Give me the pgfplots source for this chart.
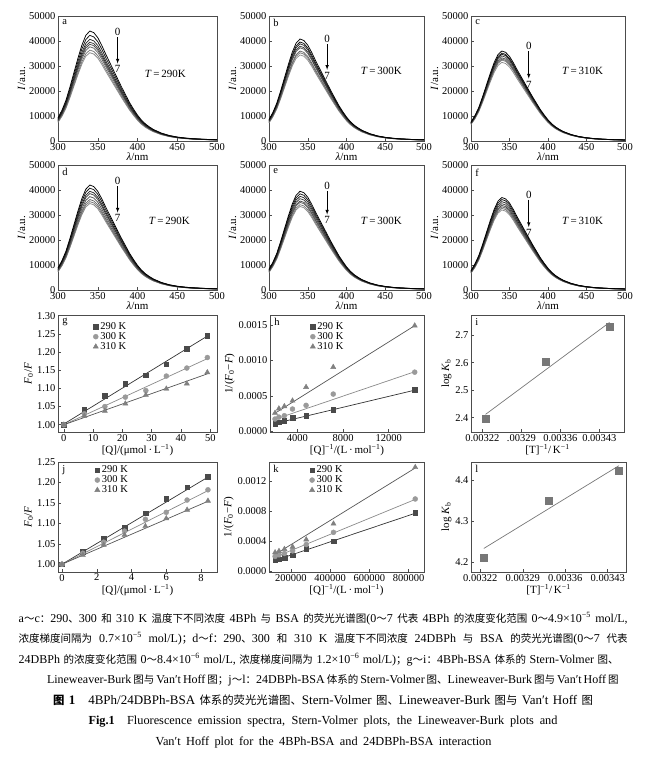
\documentclass[border=0pt]{standalone}
\usepackage{pgfplots}
\pgfplotsset{compat=1.18}
\usepackage{pgfplotstable}
\usepackage{fontspec}
\setmainfont{Liberation Serif}
\newfontfamily\cjk[Scale=0.875]{Noto Sans CJK SC}
\newcommand{\zh}[1]{{\cjk #1}}
\definecolor{c290}{HTML}{4A4A4A}
\definecolor{c300}{HTML}{9A9A9A}
\definecolor{c310}{HTML}{808080}
\definecolor{l290}{HTML}{333333}
\definecolor{l300}{HTML}{8A8A8A}
\definecolor{l310}{HTML}{555555}
\definecolor{sq}{HTML}{777777}

% relative emission profile (peak = 1)
\pgfplotstableread{
wl s
300 0.21
305 0.28
310 0.37
315 0.49
320 0.62
325 0.75
330 0.87
335 0.96
340 1.00
345 0.985
350 0.94
355 0.87
360 0.79
365 0.715
370 0.64
375 0.565
380 0.49
385 0.42
390 0.35
395 0.29
400 0.235
405 0.19
410 0.155
415 0.128
420 0.105
430 0.072
440 0.050
450 0.036
460 0.027
470 0.021
480 0.017
490 0.014
500 0.012
}\shape

\newcommand{\sC}[2]{\addplot[no marks, line width=0.75pt, draw=#2] table[x=wl, y expr={\thisrow{s}*#1}] {\shape};}

\tikzset{
  lett/.style={font=\fontsize{10.5}{11}\selectfont, anchor=north west, inner sep=1pt},
  ann/.style={font=\fontsize{11}{12}\selectfont, inner sep=0pt}
}
\pgfplotsset{
  base/.style={scale only axis, clip=false,
    axis line style={black!70, line width=0.6pt},
    tick align=inside, xtick pos=bottom, ytick pos=left,
    tick style={black!70, line width=0.5pt}, major tick length=3pt,
    tick label style={font=\fontsize{10.5}{11}\selectfont},
    label style={font=\fontsize{11}{12}\selectfont},
    /pgf/number format/assume math mode=true,
    /pgf/number format/1000 sep={},
    scaled ticks=false,
    xticklabel style={yshift=1.5pt}, yticklabel style={xshift=1pt},
    xlabel style={yshift=4pt}, ylabel style={yshift=-3pt},
    legend style={draw=none, fill=none, inner sep=0pt, font=\fontsize{10.5}{10}\selectfont, row sep=-2.5pt},
    legend cell align=left},
  spec/.style={base, xmin=300, xmax=500, ymin=0, ymax=50000,
    xtick={300,350,...,500}, ytick={0,10000,...,50000},
    yticklabel style={/pgf/number format/fixed},
    xlabel={\textit{λ}/nm}, ylabel={\textit{I}/a.u.}},
  m290/.style={only marks, mark=square*, mark size=2.3pt, mark options={draw=c290, fill=c290}},
  m300/.style={only marks, mark=*, mark size=2.5pt, mark options={draw=c300, fill=c300}},
  m310/.style={only marks, mark=triangle*, mark size=3pt, mark options={draw=c310, fill=c310}},
  f290/.style={no marks, draw=l290, line width=0.7pt, forget plot},
  f300/.style={no marks, draw=l300, line width=0.7pt, forget plot},
  f310/.style={no marks, draw=l310, line width=0.7pt, forget plot}
}

\begin{document}
\begin{tikzpicture}
\path[use as bounding box] (0,0) rectangle (646pt,-758pt);

% ---------------- Row 1 ----------------
\begin{axis}[spec, at={(58pt,-141pt)}, anchor=south west, width=159pt, height=125pt]
\sC{35310}{black!45}\sC{36360}{black!53}\sC{37700}{black!61}\sC{38700}{black!69}
\sC{39530}{black!77}\sC{40670}{black!85}\sC{42270}{black!93}\sC{44000}{black}
\node[lett] at (rel axis cs:0.02,0.98) {a};
\node[ann] at (axis cs:375,43600) {0};
\draw[-latex, line width=0.6pt] (axis cs:375,41600) -- (axis cs:375,31000);
\node[ann] at (axis cs:375,28800) {7};
\node[ann] at (axis cs:435,27000) {\textit{T}\,=\,290K};
\end{axis}

\begin{axis}[spec, at={(269pt,-141pt)}, anchor=south west, width=155pt, height=125pt]
\sC{34430}{black!45}\sC{35290}{black!53}\sC{35980}{black!61}\sC{37290}{black!69}
\sC{37920}{black!77}\sC{38860}{black!85}\sC{39610}{black!93}\sC{40800}{black}
\node[lett] at (rel axis cs:0.02,0.98) {b};
\node[ann] at (axis cs:375,40800) {0};
\draw[-latex, line width=0.6pt] (axis cs:375,38800) -- (axis cs:375,28500);
\node[ann] at (axis cs:375,26200) {7};
\node[ann] at (axis cs:445,28200) {\textit{T}\,=\,300K};
\end{axis}

\begin{axis}[spec, at={(471pt,-141pt)}, anchor=south west, width=154pt, height=125pt]
\sC{31470}{black!45}\sC{32350}{black!53}\sC{32760}{black!61}\sC{33270}{black!69}
\sC{34030}{black!77}\sC{34680}{black!85}\sC{35160}{black!93}\sC{36000}{black}
\node[lett] at (rel axis cs:0.02,0.98) {c};
\node[ann] at (axis cs:375,38000) {0};
\draw[-latex, line width=0.6pt] (axis cs:375,36000) -- (axis cs:375,25000);
\node[ann] at (axis cs:375,22600) {7};
\node[ann] at (axis cs:445,28200) {\textit{T}\,=\,310K};
\end{axis}

% ---------------- Row 2 ----------------
\begin{axis}[spec, at={(58pt,-290pt)}, anchor=south west, width=159pt, height=125pt]
\sC{34600}{black!45}\sC{35350}{black!53}\sC{36180}{black!61}\sC{37350}{black!69}
\sC{38570}{black!77}\sC{39470}{black!85}\sC{40740}{black!93}\sC{42000}{black}
\node[lett] at (rel axis cs:0.02,0.98) {d};
\node[ann] at (axis cs:375,43600) {0};
\draw[-latex, line width=0.6pt] (axis cs:375,41600) -- (axis cs:375,31000);
\node[ann] at (axis cs:375,28800) {7};
\node[ann] at (axis cs:440,27500) {\textit{T}\,=\,290K};
\end{axis}

\begin{axis}[spec, at={(269pt,-290pt)}, anchor=south west, width=155pt, height=125pt]
\sC{33420}{black!45}\sC{34140}{black!53}\sC{35050}{black!61}\sC{35590}{black!69}
\sC{36540}{black!77}\sC{37480}{black!85}\sC{38460}{black!93}\sC{39500}{black}
\node[lett] at (rel axis cs:0.02,0.98) {e};
\node[ann] at (axis cs:375,41600) {0};
\draw[-latex, line width=0.6pt] (axis cs:375,39600) -- (axis cs:375,30200);
\node[ann] at (axis cs:375,28000) {7};
\node[ann] at (axis cs:445,27500) {\textit{T}\,=\,300K};
\end{axis}

\begin{axis}[spec, at={(471pt,-290pt)}, anchor=south west, width=154pt, height=125pt]
\sC{32030}{black!45}\sC{32660}{black!53}\sC{33270}{black!61}\sC{33850}{black!69}
\sC{34530}{black!77}\sC{35340}{black!85}\sC{36190}{black!93}\sC{37000}{black}
\node[lett] at (rel axis cs:0.02,0.98) {f};
\node[ann] at (axis cs:375,38200) {0};
\draw[-latex, line width=0.6pt] (axis cs:375,36200) -- (axis cs:375,25200);
\node[ann] at (axis cs:375,22800) {7};
\node[ann] at (axis cs:445,27800) {\textit{T}\,=\,310K};
\end{axis}

% ---------------- Row 3 ----------------
\begin{axis}[base, at={(58pt,-432pt)}, anchor=south west, width=159pt, height=117pt,
  xmin=-2, xmax=52.3, ymin=0.98, ymax=1.302,
  xtick={0,10,...,50}, ytick={1.00,1.05,...,1.30},
  yticklabel style={/pgf/number format/.cd, fixed, fixed zerofill, precision=2},
  xlabel={[Q]/(μmol\,·\,L\textsuperscript{−1})}, ylabel={\textit{F}\textsubscript{0}/\textit{F}},
  legend style={at={(0.22,0.955)}, anchor=north west}]
\addplot[f290] coordinates {(0,1.002) (49,1.244)};
\addplot[f300] coordinates {(0,1.000) (49,1.182)};
\addplot[f310] coordinates {(0,1.000) (49,1.140)};
\addplot[m290] coordinates {(0,1.000) (7,1.041) (14,1.080) (21,1.113) (28,1.136) (35,1.167) (42,1.209) (49,1.245)};
\addplot[m300] coordinates {(0,1.000) (7,1.030) (14,1.050) (21,1.076) (28,1.094) (35,1.134) (42,1.156) (49,1.185)};
\addplot[m310] coordinates {(0,1.000) (7,1.024) (14,1.038) (21,1.058) (28,1.082) (35,1.099) (42,1.113) (49,1.144)};
\legend{290 K, 300 K, 310 K}
\node[lett] at (rel axis cs:0.02,0.98) {g};
\end{axis}

\begin{axis}[base, at={(270pt,-432pt)}, anchor=south west, width=154pt, height=117pt,
  xmin=1600, xmax=15100, ymin=-0.00001, ymax=0.00164,
  xtick={4000,8000,12000}, ytick={0,0.0005,0.0010,0.0015},
  xticklabel style={/pgf/number format/fixed},
  yticklabel style={/pgf/number format/.cd, fixed, fixed zerofill, precision=4},
  xlabel={[Q]\textsuperscript{−1}/(L\,·\,mol\textsuperscript{−1})}, ylabel={1/(\textit{F}\textsubscript{0}−\textit{F})},
  legend style={at={(0.26,0.955)}, anchor=north west}]
\addplot[f290] coordinates {(2041,0.000110) (14286,0.000580)};
\addplot[f300] coordinates {(2041,0.000170) (14286,0.000840)};
\addplot[f310] coordinates {(2041,0.000255) (14286,0.001490)};
\addplot[m290] coordinates {(2041,0.000108) (2381,0.000127) (2857,0.000150) (3571,0.000188) (4762,0.000220) (7143,0.000305) (14286,0.000586)};
\addplot[m300] coordinates {(2041,0.000173) (2381,0.000200) (2857,0.000220) (3571,0.000314) (4762,0.000366) (7143,0.000525) (14286,0.000834)};
\addplot[m310] coordinates {(2041,0.000258) (2381,0.000320) (2857,0.000352) (3571,0.000431) (4762,0.000623) (7143,0.000905) (14286,0.001490)};
\legend{290 K, 300 K, 310 K}
\node[lett] at (rel axis cs:0.02,0.98) {h};
\end{axis}

\begin{axis}[base, at={(471pt,-432pt)}, anchor=south west, width=153pt, height=117pt,
  xmin=0.0031997, xmax=0.0034743, ymin=2.348, ymax=2.773,
  xtick={0.00322,0.00329,0.00336,0.00343}, xticklabels={0.00322,.00329,0.00336,0.00343},
  ytick={2.4,2.5,2.6,2.7},
  yticklabel style={/pgf/number format/.cd, fixed, fixed zerofill, precision=1},
  xlabel={[T]\textsuperscript{−1}/\,K\textsuperscript{−1}}, ylabel={log \textit{K}\textsubscript{b}}]
\addplot[no marks, draw=sq, line width=0.7pt] coordinates {(0.0032258,2.412) (0.0034483,2.746)};
\addplot[only marks, mark=square*, mark size=3.3pt, mark options={draw=sq, fill=sq}] coordinates {(0.0032258,2.396) (0.0033333,2.604) (0.0034483,2.730)};
\node[lett] at (rel axis cs:0.02,0.98) {i};
\end{axis}

% ---------------- Row 4 ----------------
\begin{axis}[base, at={(58pt,-572pt)}, anchor=south west, width=159pt, height=110pt,
  xmin=-0.23, xmax=8.92, ymin=0.981, ymax=1.25,
  xtick={0,2,4,6,8}, ytick={1.00,1.05,...,1.25},
  yticklabel style={/pgf/number format/.cd, fixed, fixed zerofill, precision=2},
  xlabel={[Q]/(μmol\,·\,L\textsuperscript{−1})}, ylabel={\textit{F}\textsubscript{0}/\textit{F}},
  legend style={at={(0.23,0.985)}, anchor=north west}]
\addplot[f290] coordinates {(0,1.000) (8.4,1.213)};
\addplot[f300] coordinates {(0,1.000) (8.4,1.180)};
\addplot[f310] coordinates {(0,1.000) (8.4,1.154)};
\addplot[m290] coordinates {(0,1.000) (1.2,1.031) (2.4,1.064) (3.6,1.089) (4.8,1.1245) (6.0,1.161) (7.2,1.188) (8.4,1.214)};
\addplot[m300] coordinates {(0,1.000) (1.2,1.027) (2.4,1.054) (3.6,1.081) (4.8,1.110) (6.0,1.127) (7.2,1.157) (8.4,1.182)};
\addplot[m310] coordinates {(0,1.000) (1.2,1.0225) (2.4,1.047) (3.6,1.0715) (4.8,1.093) (6.0,1.112) (7.2,1.133) (8.4,1.155)};
\legend{290 K, 300 K, 310 K}
\node[lett] at (rel axis cs:0.02,0.98) {j};
\end{axis}

\begin{axis}[base, at={(269pt,-572pt)}, anchor=south west, width=155pt, height=110pt,
  xmin=88000, xmax=878000, ymin=-0.00001, ymax=0.00146,
  xtick={200000,400000,600000,800000}, ytick={0,0.0004,0.0008,0.0012},
  xticklabel style={/pgf/number format/fixed},
  yticklabel style={/pgf/number format/.cd, fixed, fixed zerofill, precision=4},
  xlabel={[Q]\textsuperscript{−1}/(L\,·\,mol\textsuperscript{−1})}, ylabel={1/(\textit{F}\textsubscript{0}−\textit{F})},
  legend style={at={(0.26,0.985)}, anchor=north west}]
\addplot[f290] coordinates {(119048,0.000145) (833333,0.000775)};
\addplot[f300] coordinates {(119048,0.000190) (833333,0.000960)};
\addplot[f310] coordinates {(119048,0.000225) (833333,0.001380)};
\addplot[m290] coordinates {(119048,0.000146) (138889,0.000163) (166667,0.000180) (208333,0.000216) (277778,0.000300) (416667,0.000400) (833333,0.000781)};
\addplot[m300] coordinates {(119048,0.000199) (138889,0.000220) (166667,0.000238) (208333,0.000273) (277778,0.000357) (416667,0.000520) (833333,0.000966)};
\addplot[m310] coordinates {(119048,0.000251) (138889,0.000269) (166667,0.000296) (208333,0.000326) (277778,0.000423) (416667,0.000635) (833333,0.001390)};
\legend{290 K, 300 K, 310 K}
\node[lett] at (rel axis cs:0.02,0.98) {k};
\end{axis}

\begin{axis}[base, at={(471pt,-572pt)}, anchor=south west, width=155pt, height=110pt,
  xmin=0.0032047, xmax=0.0034601, ymin=4.177, ymax=4.443,
  xtick={0.00322,0.00329,0.00336,0.00343}, xticklabels={0.00322,0.00329,0.00336,0.00343},
  ytick={4.2,4.3,4.4},
  yticklabel style={/pgf/number format/.cd, fixed, fixed zerofill, precision=1},
  xlabel={[T]\textsuperscript{−1}/\,K\textsuperscript{−1}}, ylabel={log \textit{K}\textsubscript{b}}]
\addplot[no marks, draw=sq, line width=0.7pt] coordinates {(0.0032258,4.234) (0.0034483,4.434)};
\addplot[only marks, mark=square*, mark size=3.5pt, mark options={draw=sq, fill=sq}] coordinates {(0.0032258,4.212) (0.0033333,4.349) (0.0034483,4.423)};
\node[lett] at (rel axis cs:0.02,0.98) {l};
\end{axis}

% ---------------- Caption ----------------
\node[anchor=base west, inner sep=0pt] at (18.5pt,-622pt) {\fontsize{12}{13}\selectfont\makebox[609pt][s]{a\zh{～}c\zh{：}290\zh{、}300 \zh{和} 310 K \zh{温度下不同浓度} 4BPh \zh{与} BSA \zh{的荧光光谱图}(0\zh{～}7 \zh{代表} 4BPh \zh{的浓度变化范围} 0\zh{～}4.9×10\textsuperscript{−5} mol/L,}};
\node[anchor=base west, inner sep=0pt] at (18.5pt,-642pt) {\fontsize{12}{13}\selectfont\makebox[609pt][s]{\zh{浓度梯度间隔为} 0.7×10\textsuperscript{−5} mol/L)\zh{；}d\zh{～}f\zh{：}290\zh{、}300 \zh{和} 310 K \zh{温度下不同浓度} 24DBPh \zh{与} BSA \zh{的荧光光谱图}(0\zh{～}7 \zh{代表}}};
\node[anchor=base west, inner sep=0pt] at (18.5pt,-663pt) {\fontsize{12}{13}\selectfont\makebox[600pt][s]{24DBPh \zh{的浓度变化范围} 0\zh{～}8.4×10\textsuperscript{−6} mol/L, \zh{浓度梯度间隔为} 1.2×10\textsuperscript{−6} mol/L)\zh{；}g\zh{～}i\zh{：}4BPh-BSA \zh{体系的} Stern-Volmer \zh{图、}}};
\node[anchor=base, inner sep=0pt] at (325pt,-683pt) {\fontsize{12}{13}\selectfont\makebox[556pt][s]{Lineweaver-Burk \zh{图与} Van′t Hoff \zh{图；}j\zh{～}l\zh{：}24DBPh-BSA \zh{体系的} Stern-Volmer \zh{图、}Lineweaver-Burk \zh{图与} Van′t Hoff \zh{图}}};
\node[anchor=base, inner sep=0pt] at (323pt,-704pt) {\fontsize{13}{14}\selectfont\makebox[540pt][s]{{\cjk\bfseries 图} \textbf{1}\hspace{1em}4BPh/24DBPh-BSA \zh{体系的荧光光谱图、}Stern-Volmer \zh{图、}Lineweaver-Burk \zh{图与} Van′t Hoff \zh{图}}};
\node[anchor=base, inner sep=0pt] at (323pt,-724pt) {\fontsize{12.3}{13}\selectfont\makebox[469pt][s]{\textbf{Fig.1}\hspace{1em}Fluorescence emission spectra, Stern-Volmer plots, the Lineweaver-Burk plots and}};
\node[anchor=base, inner sep=0pt] at (323.5pt,-745pt) {\fontsize{12.3}{13}\selectfont\makebox[336pt][s]{Van′t Hoff plot for the 4BPh-BSA and 24DBPh-BSA interaction}};
\end{tikzpicture}
\end{document}
